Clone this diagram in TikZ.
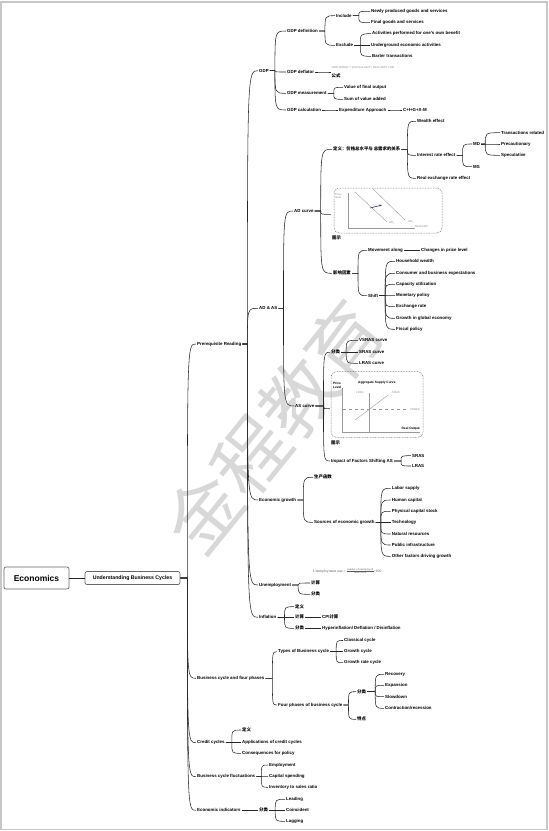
\documentclass[tikz,border=0pt]{standalone}
\usepackage{fontspec}
\setmainfont{Liberation Serif}
\setsansfont{Liberation Sans}
\newfontfamily\cjk{Noto Sans CJK SC}
\definecolor{shiftarrow}{RGB}{40, 55, 100}
\definecolor{wmgray}{RGB}{216, 216, 216}
\usetikzlibrary{arrows.meta, calc, fit}

\newcommand\zh[1]{{\cjk #1}}
% parent -> children, #1 = length of the stub after the parent
\newcommand\branch[3][5]{%
  \foreach \c in {#3}{%
    \draw[link] let \p1=(#2.east), \p2=(\c.west) in
      (\p1) -- (\x1+#1pt,\y1) .. controls (\x1+#1pt,\y2) .. (\p2);}}

\tikzset{
  topic/.style={anchor=west, inner xsep=1pt, inner ysep=0.5pt,
    font=\sffamily\bfseries\fontsize{4.4}{5}\selectfont},
  link/.style={line width=0.55pt, black!85},
  rootbox/.style={draw=black!60, line width=0.7pt, rounded corners=2pt,
    fill=white, font=\sffamily\bfseries},
  figbox/.style={draw=black!55, dash pattern=on 0.8pt off 0.8pt,
    rounded corners=5pt, line width=0.5pt},
  axis/.style={black!40, line width=0.4pt},
  figtext/.style={anchor=west, inner sep=0pt, text=black!45,
    font=\sffamily\fontsize{2.8}{3.4}\selectfont},
  figdark/.style={anchor=west, inner sep=0pt,
    font=\sffamily\bfseries\fontsize{3.2}{3.6}\selectfont},
}

\begin{document}
\begin{tikzpicture}[x=1pt, y=-1pt]
  \useasboundingbox (0,0) rectangle (549,831);
  \draw[black!22, line width=1.2pt] (1,2) rectangle (547,829.5);

  % watermark
  \node[rotate=51, text=wmgray, font=\cjk\fontsize{74}{80}\selectfont] (wmark)
    at (274,427) {金程教育};

  % root
  \node[rootbox, minimum width=65pt, minimum height=22pt,
    font=\sffamily\bfseries\fontsize{8.5}{10}\selectfont] (econ) at (36.5,578) {Economics};
  \node[rootbox, minimum width=95pt, minimum height=13pt,
    font=\sffamily\bfseries\fontsize{5.2}{6}\selectfont] (ubc) at (132.5,578) {Understanding Business Cycles};
  \draw[link] (econ.east) -- (ubc.west);

  \node[topic] (prereq) at (196,344) {Prerequisite Reading};
  \node[topic] (bcfour) at (196,678.3) {Business cycle and four phases};
  \node[topic] (credit) at (196,742.7) {Credit cycles};
  \node[topic] (fluct) at (196,776.7) {Business cycle fluctuations};
  \node[topic] (indic) at (196,810.3) {Economic indicators};
  \branch[7]{ubc}{prereq,bcfour,credit,fluct,indic}

  % Prerequisite Reading
  \node[topic] (gdp) at (258,70.7) {GDP};
  \node[topic] (adas) at (258,308.3) {AD \& AS};
  \node[topic] (growth) at (258,500) {Economic growth};
  \node[topic] (unemp) at (258,585) {Unemployment};
  \node[topic] (infl) at (258,617.3) {Inflation};
  \branch[5]{prereq}{gdp,adas,growth,unemp,infl}

  % GDP
  \node[topic] (gdpdef) at (286,31) {GDP definition};
  \node[topic] (gdpdefl) at (286,72) {GDP deflator};
  \node[topic] (gdpmeas) at (286,93.3) {GDP measurement};
  \node[topic] (gdpcalc) at (286,110) {GDP calculation};
  \branch[5]{gdp}{gdpdef,gdpdefl,gdpmeas,gdpcalc}

  \node[topic] (incl) at (335,15.7) {Include};
  \node[topic] (excl) at (335,45.3) {Exclude};
  \branch[6]{gdpdef}{incl,excl}
  \node[topic] (newgoods) at (370,11.3) {Newly produced goods and services};
  \node[topic] (finalgoods) at (370,22.7) {Final goods and services};
  \branch[6]{incl}{newgoods,finalgoods}
  \node[topic] (ownbenefit) at (371,33.7) {Activities performed for one's own benefit};
  \node[topic] (underground) at (370,45.3) {Underground economic activities};
  \node[topic] (barter) at (371,56.3) {Barter transactions};
  \branch[6]{excl}{ownbenefit,underground,barter}

  \node[anchor=west, inner sep=0.5pt, align=left,
    font=\sffamily\bfseries\fontsize{4.4}{5}\selectfont] (deflform) at (331,72)
    {{\mdseries\itshape\fontsize{2.9}{3}\selectfont\color{black!45}GDP deflator = (Nominal GDP / Real GDP) ×100}\\[4pt]\zh{公式}};
  \branch{gdpdefl}{deflform}

  \node[topic] (finaloutput) at (343,87.3) {Value of final output};
  \node[topic] (valueadded) at (343,99.3) {Sum of value added};
  \branch[6]{gdpmeas}{finaloutput,valueadded}
  \node[topic] (expend) at (338,110) {Expenditure Approach};
  \node[topic] (cigxm) at (402,110) {C+I+G+X-M};
  \branch{gdpcalc}{expend}
  \branch{expend}{cigxm}

  % AD & AS
  \node[topic] (adcurve) at (293,211) {AD curve};
  \node[topic] (ascurve) at (294,406) {AS curve};
  \branch[5]{adas}{adcurve,ascurve}

  \node[topic] (addef) at (332,149.3) {\zh{定义：价格总水平与 总需求的关系}};
  \node[figbox, minimum width=108pt, minimum height=45pt] (adbox) at (388,210.5) {};
  \node[topic] (adshow) at (331,238.3) {\zh{图示}};
  \node[fit=(adbox)(adshow), inner sep=0pt] (adfig) {};
  \node[topic] (adfactor) at (332,273.3) {\zh{影响因素}};
  \branch[6]{adcurve}{addef,adfig,adfactor}

  % AD chart
  \node[figtext, align=left] (adprice) at (335,196) {Price\\level};
  \draw[axis] (348,193) -- (348,228) -- (415,228);
  \draw[axis] (355,192) -- (387,222);
  \draw[axis] (373,189) -- (405,220);
  \draw[-{Stealth[length=2.6pt]}, line width=0.6pt, shiftarrow] (370,208) -- (382,205);
  \node[figtext] (adone) at (389,222.7) {AD\textsubscript{1}};
  \node[figtext] (adtwo) at (408,221.7) {AD\textsubscript{2}};
  \node[figtext] (realgdp) at (415,226.7) {Real GDP};

  \node[topic] (wealth) at (416,121.3) {Wealth effect};
  \node[topic] (interest) at (416,155.3) {Interest rate effect};
  \node[topic] (exchange) at (416,178.3) {Real exchange rate effect};
  \branch[6]{addef}{wealth,interest,exchange}
  \node[topic] (md) at (472,144) {MD};
  \node[topic] (ms) at (472,166.7) {MS};
  \branch[6]{interest}{md,ms}
  \node[topic] (transact) at (500,132.7) {Transactions related};
  \node[topic] (precaution) at (500,144) {Precautionary};
  \node[topic] (specul) at (500,155.3) {Speculative};
  \branch[4]{md}{transact,precaution,specul}

  \node[topic] (along) at (367,250.3) {Movement along};
  \node[topic] (shift) at (367,295.7) {Shift};
  \branch[6]{adfactor}{along,shift}
  \node[topic] (pricechg) at (420,250.3) {Changes in price level};
  \branch{along}{pricechg}
  \node[topic] (hhwealth) at (395,261.3) {Household wealth};
  \node[topic] (expect) at (395,273.3) {Consumer and business expectations};
  \node[topic] (capacity) at (395,284.3) {Capacity utilization};
  \node[topic] (monetary) at (395,295.3) {Monetary policy};
  \node[topic] (exrate) at (395,306.7) {Exchange rate};
  \node[topic] (global) at (395,318.3) {Growth in global economy};
  \node[topic] (fiscal) at (395,329.3) {Fiscal policy};
  \branch[6]{shift}{hhwealth,expect,capacity,monetary,exrate,global,fiscal}

  % AS curve
  \node[topic] (astype) at (330,352.3) {\zh{分类}};
  \node[figbox, minimum width=92pt, minimum height=65.6pt] (asbox) at (377,404.5) {};
  \node[topic] (asshow) at (330,443.3) {\zh{图示}};
  \node[fit=(asbox)(asshow), inner sep=0pt] (asfig) {};
  \node[topic] (asimpact) at (330,461) {Impact of Factors Shifting AS};
  \branch[8]{ascurve}{astype,asfig,asimpact}

  % AS chart
  \node[figdark, align=left] (asprice) at (333,385.5) {Price\\Level};
  \node[figdark] (astitle) at (358,382.7) {Aggregate Supply Curve};
  \node[figtext] (lraslab) at (356,392.3) {LRAS};
  \node[figtext] (sraslab) at (392,392.3) {SRAS};
  \draw[axis] (341.7,388) -- (341.7,431.7) -- (420,431.7);
  \draw[axis] (369.3,393) -- (369.3,431.7);
  \draw[axis] (355,420) -- (388.3,395);
  \draw[axis, dashed] (343,409.3) -- (408,409.3);
  \node[figtext] (vsraslab) at (410,409.3) {VSRAS};
  \node[figdark, anchor=east] (realout) at (420,428.7) {Real Output};

  \node[topic] (vsras) at (358,340.3) {VSRAS curve};
  \node[topic] (sras) at (358,352.3) {SRAS curve};
  \node[topic] (lras) at (358,363.3) {LRAS curve};
  \branch[5]{astype}{vsras,sras,lras}
  \node[topic] (srasimp) at (411,455.7) {SRAS};
  \node[topic] (lrasimp) at (411,466) {LRAS};
  \branch[7]{asimpact}{srasimp,lrasimp}

  % Economic growth
  \node[topic] (prodfn) at (313,477.3) {\zh{生产函数}};
  \node[topic] (sources) at (313,522.3) {Sources of economic growth};
  \branch[6]{growth}{prodfn,sources}
  \node[topic] (labor) at (390.7,488.3) {Labor supply};
  \node[topic] (human) at (390.7,500) {Human capital};
  \node[topic] (physical) at (390.7,511.3) {Physical capital stock};
  \node[topic] (tech) at (390.7,522.3) {Technology};
  \node[topic] (natural) at (390.7,534) {Natural resources};
  \node[topic] (public) at (390.7,545) {Public infrastructure};
  \node[topic] (otherfac) at (390.7,556.3) {Other factors driving growth};
  \branch[5]{sources}{labor,human,physical,tech,natural,public,otherfac}

  % Unemployment
  \node[topic] (unempcalc) at (310,583) {\zh{计算}};
  \node[topic] (unemptype) at (310,594.3) {\zh{分类}};
  \branch[6]{unemp}{unempcalc,unemptype}
  \node[anchor=west, inner sep=0pt, text=black!65,
    font=\rmfamily\fontsize{3.7}{4}\selectfont] (unempform) at (313,571.5)
    {Unemployment rate = {\fontsize{2.8}{3}\selectfont\renewcommand\arraystretch{0.9}\setlength\tabcolsep{0.5pt}\begin{tabular}{c}number of unemployed\\\hline labor force\end{tabular}}×100};

  % Inflation
  \node[topic] (infldef) at (294,606.7) {\zh{定义}};
  \node[topic] (inflcalc) at (294,617.3) {\zh{计算}};
  \node[topic] (infltype) at (294,628.3) {\zh{分类}};
  \branch[7]{infl}{infldef,inflcalc,infltype}
  \node[topic] (cpi) at (321,617.3) {CPI\zh{计算}};
  \node[topic] (hyper) at (321,628.3) {Hyperinflation/ Deflation / Disinflation};
  \branch{inflcalc}{cpi}
  \branch{infltype}{hyper}

  % Business cycle and four phases
  \node[topic] (types) at (277,651.7) {Types of Business cycle};
  \node[topic] (phases) at (277,705) {Four phases of business cycle};
  \branch[7]{bcfour}{types,phases}
  \node[topic] (classical) at (343,640.5) {Classical cycle};
  \node[topic] (growthcyc) at (343,651.7) {Growth cycle};
  \node[topic] (growthrate) at (343,662.7) {Growth rate cycle};
  \branch[6]{types}{classical,growthcyc,growthrate}
  \node[topic] (phasetype) at (356,691.7) {\zh{分类}};
  \node[topic] (phasefeat) at (356,719.3) {\zh{特点}};
  \branch[5]{phases}{phasetype,phasefeat}
  \node[topic] (recovery) at (384,674.3) {Recovery};
  \node[topic] (expansion) at (384,685.3) {Expansion};
  \node[topic] (slowdown) at (384,696.7) {Slowdown};
  \node[topic] (contraction) at (384,708.3) {Contraction/recession};
  \branch[8]{phasetype}{recovery,expansion,slowdown,contraction}

  % Credit cycles
  \node[topic] (creditdef) at (241,730) {\zh{定义}};
  \node[topic] (creditapp) at (241,742.7) {Applications of credit cycles};
  \node[topic] (creditcons) at (241,753.3) {Consequences for policy};
  \branch[6]{credit}{creditdef,creditapp,creditcons}

  % Business cycle fluctuations
  \node[topic] (employ) at (268,765) {Employment};
  \node[topic] (capspend) at (268,776.3) {Capital spending};
  \node[topic] (invsales) at (268,787.3) {Inventory to sales ratio};
  \branch[5]{fluct}{employ,capspend,invsales}

  % Economic indicators
  \node[topic] (indtype) at (258,810.3) {\zh{分类}};
  \branch{indic}{indtype}
  \node[topic] (leading) at (285,799.3) {Leading};
  \node[topic] (coincident) at (285,810.3) {Coincident};
  \node[topic] (lagging) at (285,821.3) {Lagging};
  \branch[6]{indtype}{leading,coincident,lagging}
\end{tikzpicture}
\end{document}
